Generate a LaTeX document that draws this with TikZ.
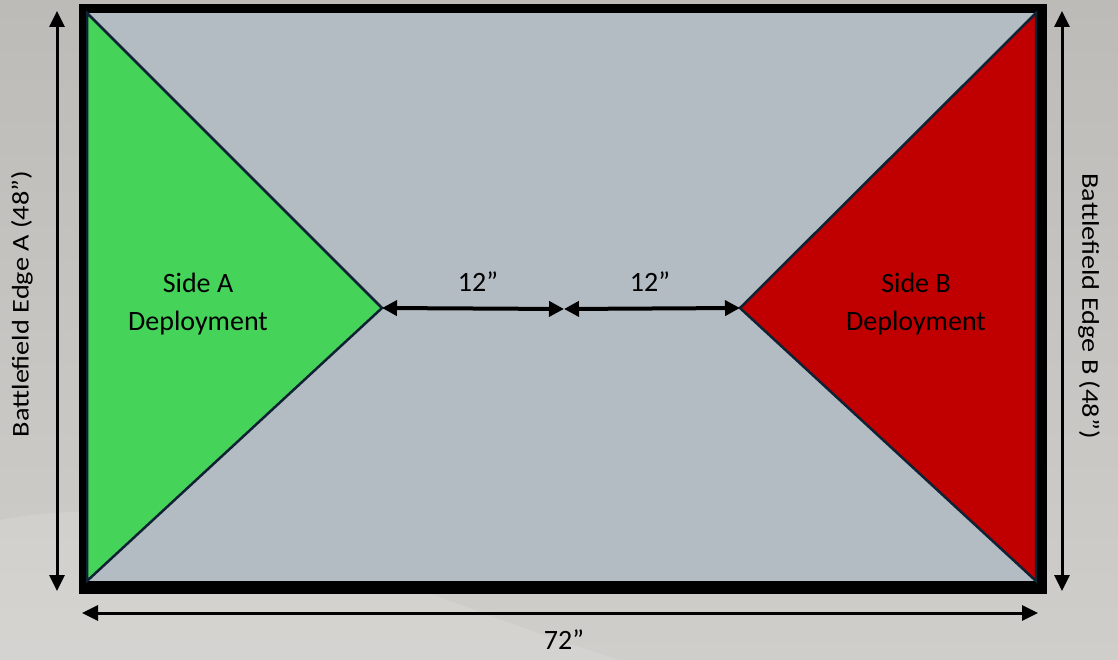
\documentclass[tikz,border=0pt]{standalone}
\usepackage{fontspec}
\setmainfont{Carlito}
\usetikzlibrary{arrows.meta}
\definecolor{boardgrey}{HTML}{B4BCC3}
\definecolor{sidegreen}{HTML}{46D35A}
\definecolor{sidered}{HTML}{C00000}
\definecolor{edgenavy}{HTML}{0E2233}
\definecolor{bgtop}{HTML}{BDBBB8}
\definecolor{bgbot}{HTML}{D0CECB}
\begin{document}
\begin{tikzpicture}[x=1pt,y=-1pt,
  dimarrow/.style={line width=3pt,{Triangle[length=16pt,width=15pt]}-{Triangle[length=16pt,width=15pt]}},
  gaparrow/.style={line width=4pt,{Triangle[length=15pt,width=15pt]}-{Triangle[length=15pt,width=15pt]}},
  deploy/.style={draw=edgenavy,line width=2.5pt,line join=miter},
  sidelbl/.style={font=\fontsize{28}{38}\selectfont,align=center,inner sep=0pt,text=black},
  dimlbl/.style={font=\fontsize{28}{34}\selectfont,inner sep=0pt,text=black},
  edgelbl/.style={font=\fontsize{24}{28}\selectfont,inner sep=0pt,text=black}]
% background
\useasboundingbox (0,0) rectangle (1118,660);
\shade[top color=bgtop,bottom color=bgbot] (0,0) rectangle (1118,660);
\fill[white,opacity=0.12] (0,520) .. controls (200,480) and (420,600) .. (620,660) -- (0,660) -- cycle;
% board frame
\fill[black] (79,4) rectangle (1047,594);
\fill[boardgrey] (87,13) rectangle (1036,581);
% corner coordinates
\coordinate (tl) at (87,13);
\coordinate (bl) at (87,581);
\coordinate (tr) at (1036,13);
\coordinate (br) at (1036,581);
\coordinate (apexA) at (382,308);
\coordinate (apexB) at (740,308);
\coordinate (mid) at (564,309);
% deployment zones
\filldraw[deploy,fill=sidegreen] (tl) -- (apexA) -- (bl) -- cycle;
\filldraw[deploy,fill=sidered] (tr) -- (apexB) -- (br) -- cycle;
% labels in zones
\node[sidelbl] (sideA) at (198,304) {Side A\\Deployment};
\node[sidelbl] (sideB) at (916,304) {Side B\\Deployment};
% gap arrows
\draw[gaparrow] (apexA) -- (mid);
\draw[gaparrow] (mid) -- (apexB);
\node[dimlbl] (gapA) at (478,282) {12”};
\node[dimlbl] (gapB) at (650,282) {12”};
% edge dimension arrows
\coordinate (lt) at (57,11);
\coordinate (lb) at (57,591);
\coordinate (rt) at (1062,11);
\coordinate (rb) at (1062,591);
\coordinate (bL) at (82,613);
\coordinate (bR) at (1038,613);
\draw[dimarrow] (lt) -- (lb);
\draw[dimarrow] (rt) -- (rb);
\draw[dimarrow] (bL) -- (bR);
\node[edgelbl,rotate=90] (edgeA) at (22,304) {\scalebox{1.18}[1]{Battlefield Edge A (48”)}};
\node[edgelbl,rotate=-90] (edgeB) at (1089,306) {\scalebox{1.18}[1]{Battlefield Edge B (48”)}};
\node[dimlbl] (width) at (564,640) {72”};
\end{tikzpicture}
\end{document}
